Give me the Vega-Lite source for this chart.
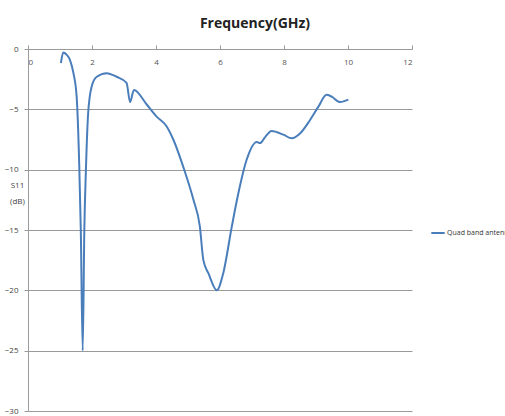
{
  "$schema": "https://vega.github.io/schema/vega-lite/v6.json",
  "width": 384,
  "height": 362,
  "autosize": {"type": "none"},
  "padding": {"left": 28, "top": 49, "right": 93, "bottom": 5},
  "background": "white",
  "title": {"text": "Frequency(GHz)", "font": "Open Sans", "fontSize": 14, "fontWeight": "bold", "color": "#222222", "anchor": "middle", "dx": 35, "offset": 14},
  "config": {"view": {"stroke": null}},
  "data": {"values": [
    {"f": 1.03, "s11": -1.16, "series": "Quad band antenna"},
    {"f": 1.1, "s11": -0.3, "series": "Quad band antenna"},
    {"f": 1.2, "s11": -0.45, "series": "Quad band antenna"},
    {"f": 1.31, "s11": -0.9, "series": "Quad band antenna"},
    {"f": 1.42, "s11": -2.0, "series": "Quad band antenna"},
    {"f": 1.52, "s11": -3.95, "series": "Quad band antenna"},
    {"f": 1.6, "s11": -9.5, "series": "Quad band antenna"},
    {"f": 1.65, "s11": -15, "series": "Quad band antenna"},
    {"f": 1.71, "s11": -25, "series": "Quad band antenna"},
    {"f": 1.76, "s11": -15, "series": "Quad band antenna"},
    {"f": 1.81, "s11": -10, "series": "Quad band antenna"},
    {"f": 1.88, "s11": -5.3, "series": "Quad band antenna"},
    {"f": 1.99, "s11": -3.1, "series": "Quad band antenna"},
    {"f": 2.15, "s11": -2.3, "series": "Quad band antenna"},
    {"f": 2.46, "s11": -2.0, "series": "Quad band antenna"},
    {"f": 2.77, "s11": -2.3, "series": "Quad band antenna"},
    {"f": 3.08, "s11": -2.8, "series": "Quad band antenna"},
    {"f": 3.19, "s11": -4.4, "series": "Quad band antenna"},
    {"f": 3.31, "s11": -3.4, "series": "Quad band antenna"},
    {"f": 3.71, "s11": -4.6, "series": "Quad band antenna"},
    {"f": 4.02, "s11": -5.6, "series": "Quad band antenna"},
    {"f": 4.33, "s11": -6.4, "series": "Quad band antenna"},
    {"f": 4.54, "s11": -7.5, "series": "Quad band antenna"},
    {"f": 4.85, "s11": -9.75, "series": "Quad band antenna"},
    {"f": 5.17, "s11": -12.5, "series": "Quad band antenna"},
    {"f": 5.37, "s11": -14.7, "series": "Quad band antenna"},
    {"f": 5.48, "s11": -17.5, "series": "Quad band antenna"},
    {"f": 5.64, "s11": -18.6, "series": "Quad band antenna"},
    {"f": 5.9, "s11": -20, "series": "Quad band antenna"},
    {"f": 6.1, "s11": -18.6, "series": "Quad band antenna"},
    {"f": 6.37, "s11": -14.7, "series": "Quad band antenna"},
    {"f": 6.57, "s11": -12, "series": "Quad band antenna"},
    {"f": 6.83, "s11": -9.2, "series": "Quad band antenna"},
    {"f": 7.15, "s11": -7.7, "series": "Quad band antenna"},
    {"f": 7.25, "s11": -7.8, "series": "Quad band antenna"},
    {"f": 7.41, "s11": -7.3, "series": "Quad band antenna"},
    {"f": 7.61, "s11": -6.8, "series": "Quad band antenna"},
    {"f": 7.98, "s11": -7.1, "series": "Quad band antenna"},
    {"f": 8.24, "s11": -7.4, "series": "Quad band antenna"},
    {"f": 8.5, "s11": -7.0, "series": "Quad band antenna"},
    {"f": 8.81, "s11": -5.9, "series": "Quad band antenna"},
    {"f": 9.07, "s11": -4.8, "series": "Quad band antenna"},
    {"f": 9.33, "s11": -3.8, "series": "Quad band antenna"},
    {"f": 9.49, "s11": -3.95, "series": "Quad band antenna"},
    {"f": 9.75, "s11": -4.4, "series": "Quad band antenna"},
    {"f": 10.01, "s11": -4.2, "series": "Quad band antenna"}
  ]},
  "mark": {"type": "line", "interpolate": "monotone", "strokeWidth": 2},
  "encoding": {
    "x": {"field": "f", "type": "quantitative",
      "scale": {"domain": [0, 12], "nice": false},
      "axis": {"orient": "bottom", "offset": -362, "values": [0, 2, 4, 6, 8, 10, 12], "grid": false, "title": null,
        "domainColor": "#9a9a9a", "tickColor": "#9a9a9a", "tickSize": -4, "labelPadding": 13,
        "labelFont": "Open Sans", "labelFontSize": 8, "labelColor": "#555555"}},
    "y": {"field": "s11", "type": "quantitative",
      "scale": {"domain": [-30, 0], "nice": false},
      "axis": {"values": [0, -5, -10, -15, -20, -25, -30], "grid": true, "gridColor": "#9a9a9a", "gridWidth": 1.2,
        "domainColor": "#9a9a9a", "tickColor": "#9a9a9a", "tickSize": 4, "labelPadding": 6,
        "labelFont": "Open Sans", "labelFontSize": 8, "labelColor": "#444444",
        "title": ["S11", "(dB)"], "titleAngle": 0, "titleX": -11, "titleY": 140, "titleAlign": "center",
        "titleFont": "Open Sans", "titleFontSize": 8, "titleFontWeight": "normal", "titleColor": "#444444", "titleLineHeight": 16}},
    "color": {"field": "series", "type": "nominal",
      "scale": {"range": ["#4a7ebb"]},
      "legend": {"title": null, "orient": "none", "legendX": 402, "legendY": 176, "symbolType": "stroke", "symbolSize": 180,
        "symbolStrokeWidth": 2, "labelFont": "Open Sans", "labelFontSize": 7, "labelColor": "#333333", "labelOffset": 1, "labelLimit": 0}}
  }
}
